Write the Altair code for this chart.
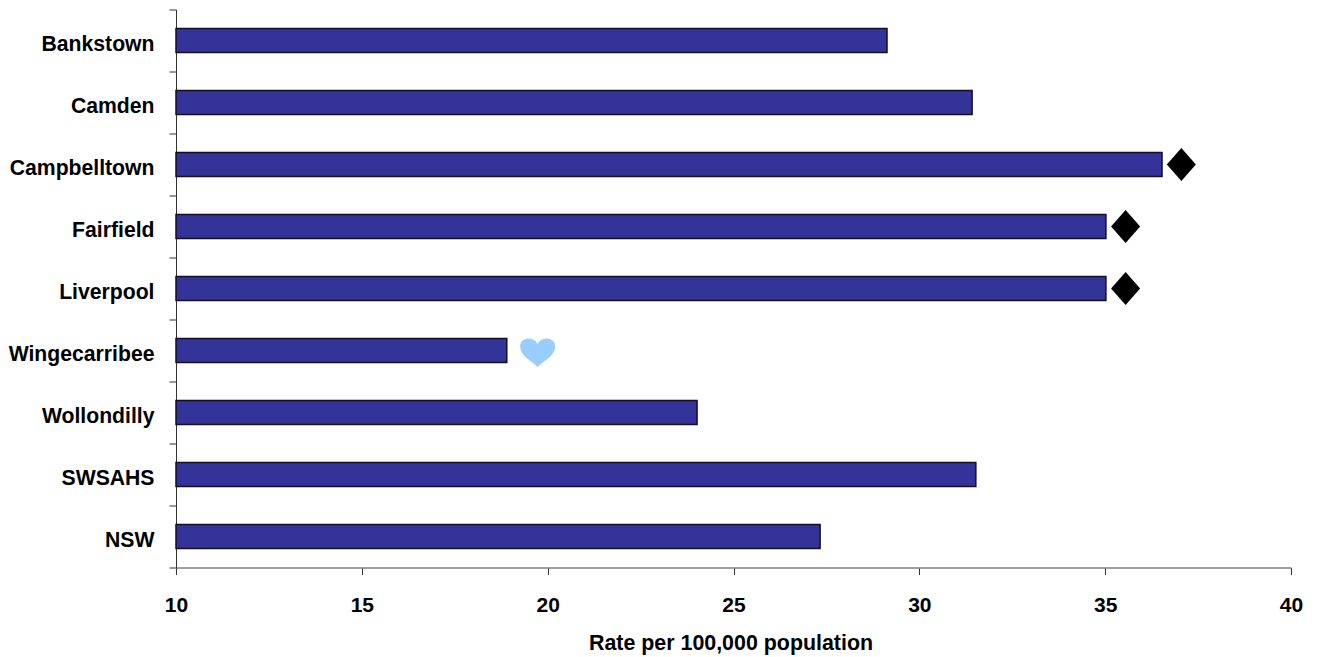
import altair as alt
import pandas as pd

categories = ["Bankstown", "Camden", "Campbelltown", "Fairfield", "Liverpool",
              "Wingecarribee", "Wollondilly", "SWSAHS", "NSW"]
rates = [29.13, 31.42, 36.53, 35.02, 35.02, 18.9, 24.02, 31.52, 27.33]
x_ticks = [10, 15, 20, 25, 30, 35, 40]

diamond_categories = ["Campbelltown", "Fairfield", "Liverpool"]
diamond_positions = [37.05, 35.55, 35.55]
heart_categories = ["Wingecarribee"]
heart_positions = [19.73]

FONT = "Liberation Sans"
DIAMOND = "M0,-1 L0.88,0 L0,1 L-0.88,0 Z"
HEART = ("M0,0.94 C-0.3,0.62 -1,0.3 -1,-0.22 C-1,-0.52 -0.78,-0.68 -0.5,-0.68 "
         "C-0.25,-0.68 -0.08,-0.52 0,-0.36 C0.08,-0.52 0.25,-0.68 0.5,-0.68 "
         "C0.78,-0.68 1,-0.52 1,-0.22 C1,0.3 0.3,0.62 0,0.94 Z")

bars_df = pd.DataFrame({"category": categories, "rate": rates})
diamonds_df = pd.DataFrame({"category": diamond_categories, "pos": diamond_positions})
hearts_df = pd.DataFrame({"category": heart_categories, "pos": heart_positions})

x_scale = alt.Scale(domain=[10, 40], zero=False, nice=False)
y_scale = alt.Scale(domain=categories, paddingInner=0, paddingOuter=0)

y_enc = alt.Y("category:N", sort=categories, scale=y_scale, axis=alt.Axis(
    title=None, tickBand="extent", labelPadding=15, labelOffset=4, labelFont=FONT, labelFontSize=21.2,
    labelFontWeight="bold", labelColor="black", tickSize=7, tickColor="#333333",
    domainColor="#333333", labelLimit=300))

bars = alt.Chart(bars_df).mark_bar(size=24, color="#333399", stroke="#111122", strokeWidth=1.5).encode(
    x=alt.X("rate:Q", scale=x_scale, axis=alt.Axis(
        title="Rate per 100,000 population", values=x_ticks, grid=False, format="d",
        labelPadding=20, labelFont=FONT, labelFontSize=21, labelFontWeight="bold",
        labelColor="black", labelFlush=False, tickSize=7, tickColor="#333333", domainColor="#808080",
        domainWidth=1.5, titleFont=FONT, titleFontSize=21.4, titleFontWeight="bold",
        titleColor="black", titlePadding=17, titleX=554.5)),
    x2=alt.datum(10),
    y=y_enc,
)

diamonds = alt.Chart(diamonds_df).mark_point(
    shape=DIAMOND, size=1089, filled=True, fill="black", stroke=None, opacity=1
).encode(x=alt.X("pos:Q", scale=x_scale), y=alt.Y("category:N", sort=categories, scale=y_scale))

hearts = alt.Chart(hearts_df).mark_point(
    shape=HEART, size=1225, filled=True, fill="#99CCFF", stroke=None, opacity=1
).encode(x=alt.X("pos:Q", scale=x_scale), y=alt.Y("category:N", sort=categories, scale=y_scale))

chart = (bars + diamonds + hearts).properties(
    width=1115, height=558,
    autosize=alt.AutoSizeParams(type="none"),
    padding={"left": 168, "top": 1.5, "right": 18, "bottom": 90},
    background="white",
).configure_view(stroke=None).configure_axis(grid=False)

chart.save("out.html", embed_options={"renderer": "svg", "actions": False})
